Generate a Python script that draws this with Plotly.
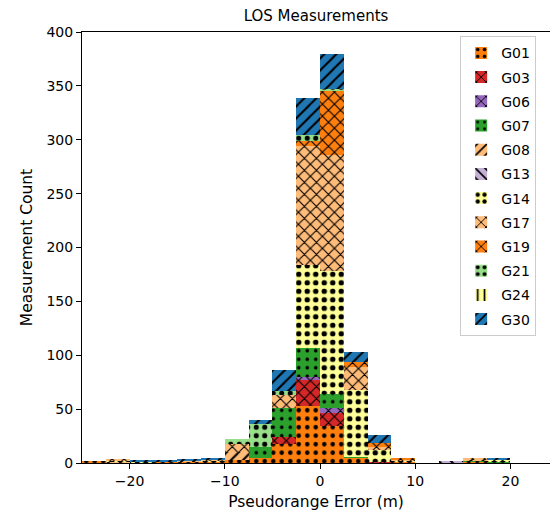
import plotly.graph_objects as go

# Histogram bin edges (m) and per-satellite counts in each bin
BIN_EDGES = [-25.0, -22.5, -20.0, -17.5, -15.0, -12.5, -10.0, -7.5, -5.0, -2.5, 0.0,
             2.5, 5.0, 7.5, 10.0, 12.5, 15.0, 17.5, 20.0, 22.5, 25.0]

SATELLITES = ["G01", "G03", "G06", "G07", "G08", "G13", "G14", "G17", "G19", "G21", "G24", "G30"]

G01 = [1, 0, 0, 1, 1, 1, 3, 5, 18, 53, 34, 5, 0, 1, 0, 0, 1, 0, 0, 0]
G03 = [0, 0, 0, 0, 0, 0, 0, 0, 6, 24, 12, 0, 1, 0, 0, 0, 0, 0, 0, 0]
G06 = [0, 0, 0, 0, 0, 0, 0, 0, 0, 3, 5, 0, 0, 0, 0, 0, 0, 0, 0, 0]
G07 = [0, 0, 0, 0, 0, 0, 0, 10, 27, 27, 13, 1, 0, 0, 0, 0, 1, 1, 0, 0]
G08 = [0, 1, 0, 0, 1, 0, 7, 0, 0, 0, 0, 0, 0, 0, 0, 0, 1, 0, 0, 0]
G13 = [0, 0, 0, 0, 0, 0, 0, 0, 0, 0, 0, 0, 0, 0, 0, 1, 0, 0, 0, 0]
G14 = [0, 1, 1, 0, 0, 1, 0, 0, 0, 77, 114, 62, 11, 1, 0, 0, 0, 1, 0, 0]
G17 = [0, 1, 0, 0, 0, 1, 8, 0, 12, 110, 108, 21, 3, 1, 0, 0, 1, 0, 0, 0]
G19 = [0, 0, 0, 0, 0, 0, 0, 0, 0, 5, 59, 5, 4, 1, 0, 0, 0, 0, 0, 0]
G21 = [0, 0, 0, 0, 0, 0, 4, 21, 4, 5, 2, 0, 0, 0, 0, 0, 0, 0, 0, 0]
G24 = [0, 0, 0, 0, 0, 0, 0, 0, 0, 0, 0, 0, 0, 0, 0, 0, 0, 1, 0, 0]
G30 = [0, 0, 1, 1, 1, 1, 0, 4, 19, 35, 33, 9, 7, 0, 0, 0, 0, 1, 0, 0]

COUNTS = [G01, G03, G06, G07, G08, G13, G14, G17, G19, G21, G24, G30]

COLORS = ["#ff7f0e", "#d62728", "#9467bd", "#2ca02c", "#ffbb78", "#c5b0d5",
          "#ffff99", "#ffbb78", "#ff7f0e", "#98df8a", "#ffff99", "#1f77b4"]
HATCHES = [".", "x", "x", ".", "/", "\\", ".", "x", "x", ".", "|", "/"]
SOLIDITY = [0.22, 0.25, 0.25, 0.14, 0.25, 0.25, 0.32, 0.25, 0.25, 0.28, 0.25, 0.25]

centers = [(a + b) / 2 for a, b in zip(BIN_EDGES[:-1], BIN_EDGES[1:])]
widths = [b - a for a, b in zip(BIN_EDGES[:-1], BIN_EDGES[1:])]

fig = go.Figure()
for name, vals, col, hatch, sol in zip(SATELLITES, COUNTS, COLORS, HATCHES, SOLIDITY):
    fig.add_trace(go.Bar(
        x=centers, y=vals, width=widths, name=name, legendgroup=name,
        marker=dict(
            color=col, line=dict(width=0),
            pattern=dict(shape=hatch, fgcolor="black", bgcolor=col, fgopacity=1,
                         fillmode="overlay", size=8.5, solidity=sol),
        ),
    ))

font_family = "DejaVu Sans"
fig.update_layout(
    width=550, height=517,
    margin=dict(l=82, r=0, t=32, b=54),
    barmode="stack", bargap=0,
    plot_bgcolor="white", paper_bgcolor="white",
    font=dict(family=font_family, size=14, color="black"),
    title=dict(text="LOS Measurements", x=0.5, xref="paper", xanchor="center",
               y=1 - 16 / 517, yanchor="middle", font=dict(size=15)),
    showlegend=True,
    legend=dict(
        x=0.808, xanchor="left", y=0.99, yanchor="top",
        traceorder="grouped",
        bgcolor="rgba(255,255,255,0.8)", bordercolor="#cccccc", borderwidth=1,
        font=dict(size=14), itemwidth=30, tracegroupgap=3,
    ),
    xaxis=dict(
        range=[-25, 24.15], tickvals=[-20, -10, 0, 10, 20],
        ticks="outside", ticklen=5, tickwidth=1, tickcolor="black",
        showline=True, linecolor="black", linewidth=1, mirror=True,
        showgrid=False, zeroline=False,
        title=dict(text="Pseudorange Error (m)", standoff=8, font=dict(size=15.5)),
        tickfont=dict(size=14),
    ),
    yaxis=dict(
        range=[0, 400], tickvals=[0, 50, 100, 150, 200, 250, 300, 350, 400],
        ticks="outside", ticklen=5, tickwidth=1, tickcolor="black",
        showline=True, linecolor="black", linewidth=1, mirror=False,
        showgrid=False, zeroline=False,
        title=dict(text="Measurement Count", standoff=10, font=dict(size=15.5)),
        tickfont=dict(size=14),
    ),
)

fig.write_html("out.html")
